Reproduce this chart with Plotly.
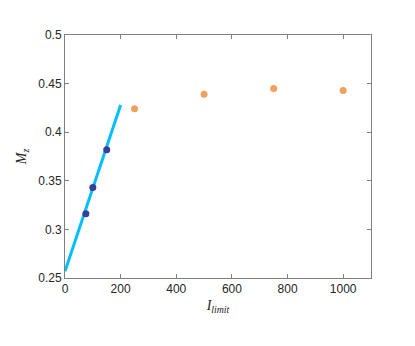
import plotly.graph_objects as go

# data
fit_i = [0, 200]
fit_m = [0.257, 0.428]

low_i = [75, 100, 150]
low_m = [0.316, 0.343, 0.382]

high_i = [250, 500, 750, 1000]
high_m = [0.424, 0.439, 0.445, 0.443]

x_ticks = [0, 200, 400, 600, 800, 1000]
y_ticks = [0.25, 0.3, 0.35, 0.4, 0.45, 0.5]

fig = go.Figure()

fig.add_trace(go.Scatter(
    x=fit_i, y=fit_m, mode="lines",
    line=dict(color="#00BFFF", width=3),
    showlegend=False,
))
fig.add_trace(go.Scatter(
    x=low_i, y=low_m, mode="markers",
    marker=dict(color="#3B3E96", size=7, line=dict(width=0)),
    showlegend=False,
))
fig.add_trace(go.Scatter(
    x=high_i, y=high_m, mode="markers",
    marker=dict(color="#F2A05E", size=7, line=dict(width=0)),
    showlegend=False,
))

axis_common = dict(
    showgrid=False, zeroline=False,
    showline=True, linecolor="#808080", linewidth=1, mirror="ticks",
    ticks="inside", ticklen=4, tickcolor="#808080",
    tickfont=dict(family="Liberation Sans, Arial", size=12, color="#262626"),
)

fig.update_xaxes(
    range=[0, 1100], tickvals=x_ticks,
    title=dict(text="<i>I</i><sub><i>limit</i></sub>",
               font=dict(family="Liberation Serif, serif", size=14, color="#262626"),
               standoff=4),
    **axis_common,
)
fig.update_yaxes(
    range=[0.25, 0.5], tickvals=y_ticks,
    ticktext=["0.25", "0.3", "0.35", "0.4", "0.45", "0.5"],
    title=dict(text="<i>M</i><sub><i>z</i></sub>",
               font=dict(family="Liberation Serif, serif", size=14, color="#262626"),
               standoff=8),
    **axis_common,
)

# the page body adds an 8px offset, so the margins are shifted to compensate
fig.update_layout(
    width=415, height=346,
    margin=dict(l=52, r=52, t=27, b=76),
    plot_bgcolor="white", paper_bgcolor="white",
)

fig.write_html("out.html")
